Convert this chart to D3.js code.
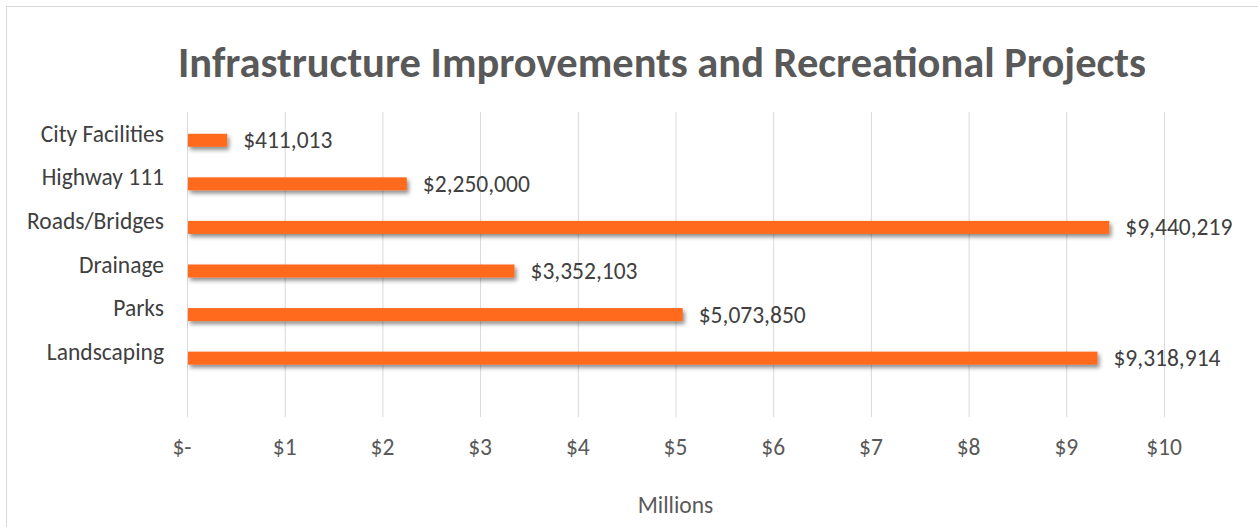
<!DOCTYPE html>
<html>
<head>
<meta charset="utf-8">
<script src="https://cdn.jsdelivr.net/npm/d3@7"></script>
<style>
  html, body { margin: 0; padding: 0; background: #fff; }
  svg { display: block; }
  text { font-family: Carlito, Lato, "Noto Sans", sans-serif; }
</style>
</head>
<body>
<svg id="chart" width="1258" height="527"></svg>
<script>
const title = "Infrastructure Improvements and Recreational Projects";
const categories = ["City Facilities", "Highway 111", "Roads/Bridges", "Drainage", "Parks", "Landscaping"];
const values = [411013, 2250000, 9440219, 3352103, 5073850, 9318914];
const tickValues = [0, 1, 2, 3, 4, 5, 6, 7, 8, 9, 10];
const tickLabels = ["$-", "$1", "$2", "$3", "$4", "$5", "$6", "$7", "$8", "$9", "$10"];
const axisTitle = "Millions";

const W = 1258, H = 527;
const plot = { left: 187, right: 1164, top: 112, bottom: 417 };
const FS = 23.5;
const svg = d3.select("#chart");

// chart area border
svg.append("rect").attr("x", 6.5).attr("y", 6.5).attr("width", W + 10).attr("height", H + 10)
  .attr("fill", "#fff").attr("stroke", "#d9d9d9").attr("stroke-width", 1);

const defs = svg.append("defs");
const f = defs.append("filter").attr("id", "shadow").attr("x", "-5%").attr("y", "-50%").attr("width", "115%").attr("height", "250%");
f.append("feDropShadow").attr("dx", 2).attr("dy", 3).attr("stdDeviation", 2.2)
  .attr("flood-color", "#000").attr("flood-opacity", 0.45);

const x = d3.scaleLinear().domain([0, 10]).range([plot.left, plot.right]);
const y = d3.scaleBand().domain([...categories, ""]).range([plot.top, plot.bottom]).paddingInner(0).paddingOuter(0);
const slot = d3.scaleBand().domain(["empty", "value"]).range([0, y.bandwidth()]).paddingInner(0).paddingOuter(0.676);

// title
svg.append("text").attr("x", 662).attr("y", 62).attr("text-anchor", "middle").attr("dominant-baseline", "central")
  .attr("font-size", 42.5).attr("font-weight", "bold").attr("fill", "#595959").text(title);

// gridlines
svg.append("g").selectAll("line").data(tickValues).join("line")
  .attr("x1", d => x(d) + 0.5).attr("x2", d => x(d) + 0.5)
  .attr("y1", plot.top).attr("y2", plot.bottom)
  .attr("stroke", "#d9d9d9").attr("stroke-width", 1);

// x tick labels
svg.append("g").selectAll("text").data(tickValues).join("text")
  .attr("x", d => x(d)).attr("dx", (d, i) => i === 0 ? -5 : 0)
  .attr("y", 447).attr("text-anchor", "middle").attr("dominant-baseline", "central")
  .attr("font-size", FS).attr("fill", "#595959")
  .text((d, i) => tickLabels[i]);

// axis title
svg.append("text").attr("x", (plot.left + plot.right) / 2).attr("y", 505)
  .attr("text-anchor", "middle").attr("dominant-baseline", "central")
  .attr("font-size", FS).attr("fill", "#595959").text(axisTitle);

// category labels
svg.append("g").selectAll("text").data(categories).join("text")
  .attr("x", 164).attr("y", d => y(d) + y.bandwidth() / 2)
  .attr("text-anchor", "end").attr("dominant-baseline", "central")
  .attr("font-size", FS).attr("fill", "#404040")
  .text(d => d);

// bars
const data = categories.map((c, i) => ({ c, v: values[i] }));
svg.append("g").attr("filter", "url(#shadow)").selectAll("rect").data(data).join("rect")
  .attr("x", x(0) + 1).attr("y", d => y(d.c) + slot("value"))
  .attr("width", d => x(d.v / 1e6) - x(0) - 1).attr("height", slot.bandwidth())
  .attr("fill", "#FF6A1F");

// value labels
const fmt = d3.format(",");
svg.append("g").selectAll("text").data(data).join("text")
  .attr("x", d => x(d.v / 1e6) + 16).attr("y", d => y(d.c) + slot("value") + slot.bandwidth() / 2)
  .attr("dominant-baseline", "central")
  .attr("font-size", FS).attr("fill", "#404040")
  .text(d => "$" + fmt(d.v));
</script>
</body>
</html>
